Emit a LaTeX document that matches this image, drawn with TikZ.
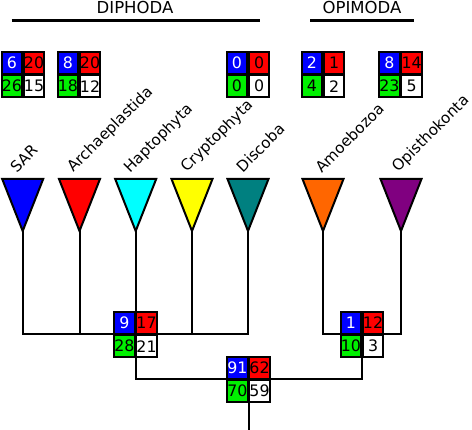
\documentclass[tikz,border=0pt]{standalone}
\usepackage{fontspec}
\setmainfont{DejaVu Sans}
\definecolor{cblue}{RGB}{0,0,255}
\definecolor{cred}{RGB}{255,0,0}
\definecolor{cgreen}{RGB}{0,240,0}
\definecolor{ccyan}{RGB}{0,255,255}
\definecolor{cyellow}{RGB}{255,255,0}
\definecolor{cteal}{RGB}{0,128,128}
\definecolor{corange}{RGB}{255,102,0}
\definecolor{cpurple}{RGB}{128,0,128}
\newcommand\quadbox[7]{%
  \node[cell, fill=cblue, text=white, anchor=south east] (#1a) at (#2,#3) {#4};
  \node[cell, fill=cred, anchor=south west] (#1b) at (#2,#3) {#5};
  \node[cell, fill=cgreen, anchor=north east] (#1c) at (#2,#3) {#6};
  \node[cell, fill=white, anchor=north west] (#1d) at (#2,#3) {#7};
}
\newcommand\cladetri[3]{% name, x, colour
  \coordinate (#1) at (#2,231);
  \filldraw[tri, fill=#3] (#2-20.5,179) -- (#2+20.5,179) -- (#1) -- cycle;
}
\begin{document}
\begin{tikzpicture}[x=1pt,y=-1pt,
  conn/.style={line width=2pt, line cap=rect},
  tri/.style={draw=black, line width=2pt},
  cell/.style={draw=black, line width=1.8pt, minimum width=20.3pt, minimum height=21.5pt,
    inner sep=0pt, text=black, font=\fontsize{15.8}{15.8}\selectfont},
  lab/.style={rotate=45, anchor=base west, inner sep=0pt, font=\fontsize{15.2}{15.2}\selectfont},
  title/.style={anchor=base, inner sep=0pt, font=\fontsize{16.5}{16.5}\selectfont},
  bar/.style={line width=2.2pt}]
\useasboundingbox (0,0) rectangle (472,430);

% titles
\node[title] (tdip) at (135,14) {DIPHODA};
\node[title] (topi) at (362,14) {OPIMODA};
\coordinate (d1) at (11.7,20.5); \coordinate (d2) at (260,20.5);
\coordinate (o1) at (310,20.5); \coordinate (o2) at (414,20.5);
\draw[bar] (d1) -- (d2);
\draw[bar] (o1) -- (o2);

% labels
\node[lab] (lsar) at (16.7,173.5) {SAR};
\node[lab] (larc) at (73.3,173) {Archaeplastida};
\node[lab] (lhap) at (130,173.3) {Haptophyta};
\node[lab] (lcry) at (186.7,173) {Cryptophyta};
\node[lab] (ldis) at (242.7,173.3) {Discoba};
\node[lab] (lamo) at (321.7,173.5) {Amoebozoa};
\node[lab] (lopi) at (398,173) {Opisthokonta};

% triangles
\cladetri{t1}{22.7}{cblue}
\cladetri{t2}{79.5}{cred}
\cladetri{t3}{135.7}{ccyan}
\cladetri{t4}{192}{cyellow}
\cladetri{t5}{248}{cteal}
\cladetri{t6}{323}{corange}
\cladetri{t7}{401}{cpurple}

% connectors
\coordinate (j1) at (22.7,334);
\coordinate (j2) at (79.5,334);
\coordinate (j3) at (135.7,334);
\coordinate (j4) at (192,334);
\coordinate (j5) at (248,334);
\coordinate (j6) at (323,334);
\coordinate (j7) at (401,334);
\draw[conn] (t1) -- (j1) -- (j5) -- (t5);
\draw[conn] (t2) -- (j2);
\draw[conn] (t3) -- (j3);
\draw[conn] (t4) -- (j4);
\draw[conn] (t6) -- (j6) -- (j7) -- (t7);
\coordinate (k1) at (135.7,379);
\coordinate (k2) at (362,379);
\coordinate (root) at (248.5,430);
\draw[conn] (j3) -- (k1) -- (k2) -- (362,334);

% leaf boxes
\quadbox{bsar}{23}{74.5}{6}{20}{26}{15}
\quadbox{barc}{79}{74.5}{8}{20}{18}{12}
\quadbox{bdis}{248}{74.5}{0}{0}{0}{0}
\quadbox{bamo}{323}{74.5}{2}{1}{4}{2}
\quadbox{bopi}{400.5}{74.5}{8}{14}{23}{5}

% internal boxes
\quadbox{bdip}{135.5}{334.5}{9}{17}{28}{21}
\quadbox{bop}{362}{334.5}{1}{12}{10}{3}
\quadbox{broot}{248.5}{379.5}{91}{62}{70}{59}
\draw[conn] (brootc.south east) -- (root);
\end{tikzpicture}
\end{document}
